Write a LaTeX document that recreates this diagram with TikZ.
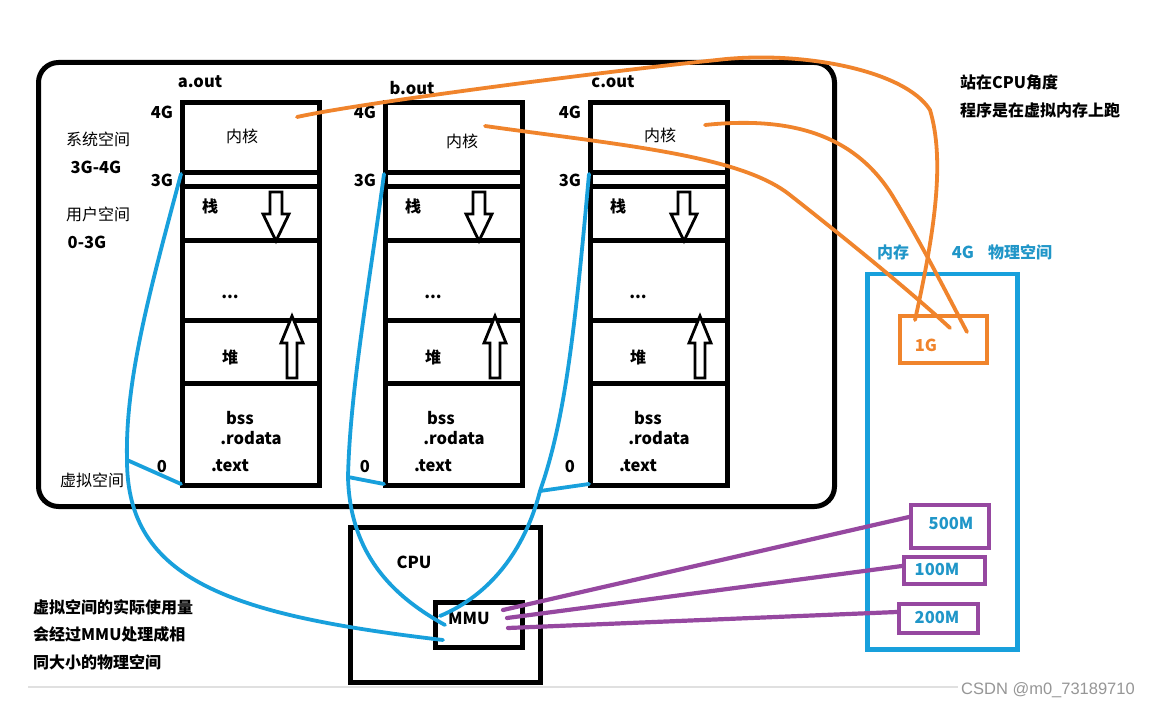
\documentclass[tikz,border=0pt]{standalone}
\usepackage{fontspec}
\setmainfont{Noto Sans CJK SC}
\newfontfamily\wmfont{Liberation Sans}
\definecolor{lblue}{RGB}{24,160,220}
\definecolor{lorange}{RGB}{240,132,44}
\definecolor{lpurple}{RGB}{150,72,160}
\definecolor{tealtxt}{RGB}{32,150,200}
\definecolor{wmgray}{RGB}{150,150,150}
\tikzset{
  frame/.style={draw=black, line width=5pt, inner sep=0pt},
  hline/.style={draw=black, line width=5pt},
  blueline/.style={draw=lblue, line width=3.8pt, line cap=round},
  orangeline/.style={draw=lorange, line width=3.8pt, line cap=round},
  purpleline/.style={draw=lpurple, line width=4.2pt, line cap=round},
  lbl/.style={font=\fontsize{16.5}{19}\selectfont\bfseries, inner sep=0pt},
  cn/.style={font=\fontsize{16}{19}\selectfont, inner sep=0pt},
  cnb/.style={font=\fontsize{16}{19}\selectfont\bfseries, inner sep=0pt},
  hollow/.style={draw=black, line width=2.8pt, fill=white, line join=miter},
}
\newcommand\memcol[8]{%
  % #1 name, #2 left x, #3 title, #4 title x, #5 title y, #6 kernel x, #7 kernel y, #8 bss x
  \begin{scope}[shift={(#2,0)}]
    \node[frame, minimum width=137pt, minimum height=383pt, anchor=north west] (#1box) at (0,100) {};
    \draw[hline] (0,173) -- (137,173);
    \draw[hline] (0,187) -- (137,187);
    \draw[hline] (0,241) -- (137,241);
    \draw[hline] (0,320) -- (137,320);
    \draw[hline] (0,383) -- (137,383);
    \node[lbl] (#1title) at (#4,#5) {#3};
    \node[lbl] (#1g4) at (-18,112) {4G};
    \node[lbl] (#1g3) at (-18,180) {3G};
    \node[lbl] (#1zero) at (-18,467) {0};
    \node[cn] (#1kern) at (#6,#7) {内核};
    \node[cnb] (#1stack) at (30,206) {栈};
    \node[lbl] (#1dots) at (50,297) {...};
    \node[cnb] (#1heap) at (50,357) {堆};
    \node[lbl] (#1bss) at (#8,418) {bss};
    \node[lbl] (#1ro) at (71,438) {.rodata};
    \node[lbl] (#1text) at (50,466) {.text};
    \draw[hollow] (90,192) -- (102,192) -- (102,214) -- (109,214) -- (96,241) -- (83,214) -- (90,214) -- cycle;
    \draw[hollow] (107,378) -- (117,378) -- (117,343) -- (123,343) -- (112,316) -- (101,343) -- (107,343) -- cycle;
    \coordinate (#1top) at (1,174);
    \coordinate (#1bot) at (1,484);
  \end{scope}
}
\begin{document}
\begin{tikzpicture}[x=1pt,y=-1pt]
\useasboundingbox[fill=white] (0,0) rectangle (1150,708);

% outer virtual space frame
\node[frame, rounded corners=20pt, minimum width=796pt, minimum height=444pt, anchor=north west] (outer) at (36,60) {};

\memcol{a}{180}{a.out}{20}{82}{62}{136}{60}
\memcol{b}{383}{b.out}{29}{88}{79}{141}{58}
\memcol{c}{588}{c.out}{25}{82}{72}{135}{60}

% left labels
\node[cn] (sys) at (98,139) {系统空间};
\node[lbl] (sysr) at (96,167) {3G-4G};
\node[cn] (usr) at (98,214) {用户空间};
\node[lbl] (usrr) at (87,242) {0-3G};
\node[cn] (virt) at (92,480) {虚拟空间};

% CPU and MMU
\node[frame, minimum width=190pt, minimum height=155pt, anchor=north west] (cpu) at (348,525) {};
\node[lbl] (cpulbl) at (414,562) {CPU};
\node[frame, minimum width=87pt, minimum height=45pt, anchor=north west] (mmu) at (433,600) {};
\node[lbl] (mmulbl) at (469,618) {MMU};

% physical memory
\node[draw=lblue, line width=4.5pt, inner sep=0pt, minimum width=150pt, minimum height=375pt, anchor=north west] (mem) at (865,272) {};
\node[cnb, text=tealtxt] (memlbl) at (893,252) {内存};
\node[lbl, text=tealtxt] (memsize) at (963,252) {4G};
\node[cnb, text=tealtxt] (memphys) at (1020,252) {物理空间};
\node[draw=lorange, line width=4pt, inner sep=0pt, minimum width=87pt, minimum height=47pt, anchor=north west] (g1) at (898,314) {};
\node[lbl, text=lorange] (g1lbl) at (926,345) {1G};
\node[draw=lpurple, line width=4pt, inner sep=0pt, minimum width=78pt, minimum height=43pt, anchor=north west] (m500) at (909,503) {};
\node[lbl, text=tealtxt] (m500lbl) at (951,523) {500M};
\node[draw=lpurple, line width=4pt, inner sep=0pt, minimum width=81pt, minimum height=27pt, anchor=north west] (m100) at (902,555) {};
\node[lbl, text=tealtxt] (m100lbl) at (937,569) {100M};
\node[draw=lpurple, line width=4pt, inner sep=0pt, minimum width=79pt, minimum height=29pt, anchor=north west] (m200) at (897,602) {};
\node[lbl, text=tealtxt] (m200lbl) at (937,617) {200M};

% right and bottom notes
\node[cnb, anchor=west] (note1) at (960,82) {站在CPU角度};
\node[cnb, anchor=west] (note2) at (960,110) {程序是在虚拟内存上跑};
\node[cnb, anchor=west] (note3) at (33,607) {虚拟空间的实际使用量};
\node[cnb, anchor=west] (note4) at (33,634) {会经过MMU处理成相};
\node[cnb, anchor=west] (note5) at (33,662) {同大小的物理空间};

% faint bottom rule and watermark
\draw[black!12, line width=1.2pt] (28,687) -- (958,687);
\node[font=\wmfont\fontsize{16.5}{19}\selectfont, text=wmgray, inner sep=0pt] (wm) at (1048,690) {CSDN @m0\_73189710};

% connector end points
\coordinate (aker) at (297,117);
\coordinate (bker) at (485,126);
\coordinate (cker) at (705,125);
\coordinate (g1a) at (915,320);
\coordinate (g1b) at (950,328);
\coordinate (g1c) at (967,332);
\coordinate (mmua) at (443,640);
\coordinate (mmub) at (445,625);
\coordinate (mmuc) at (440,616);
\coordinate (aj) at (127,460);
\coordinate (bj) at (348,477);
\coordinate (cj) at (540,491);
\coordinate (p1) at (503,610);
\coordinate (p2) at (507,618);
\coordinate (p3) at (508,628);
\coordinate (q1) at (909,517);
\coordinate (q2) at (902,566);
\coordinate (q3) at (897,612);

% blue virtual-to-MMU curves
\draw[blueline] (atop) .. controls (150,290) and (125,380) .. (aj)
   .. controls (127,580) and (230,615) .. (mmua);
\draw[blueline] (aj) -- (abot);
\draw[blueline] (btop) .. controls (370,280) and (350,390) .. (bj)
   .. controls (350,560) and (400,600) .. (mmub);
\draw[blueline] (bj) -- (bbot);
\draw[blueline] (ctop) .. controls (575,330) and (565,420) .. (cj)
   .. controls (525,550) and (490,595) .. (mmuc);
\draw[blueline] (cbot) -- (cj);

% orange kernel curves
\draw[orangeline] (aker) .. controls (360,103) and (600,72) .. (717,60)
   .. controls (800,50) and (905,70) .. (930,110)
   .. controls (945,160) and (935,230) .. (g1a);
\draw[orangeline] (bker) .. controls (620,145) and (740,155) .. (790,195)
   .. controls (860,250) and (920,300) .. (g1b);
\draw[orangeline] (cker) .. controls (800,115) and (860,140) .. (895,200)
   .. controls (925,250) and (950,300) .. (g1c);

% purple MMU to physical blocks
\draw[purpleline] (p1) -- (q1);
\draw[purpleline] (p2) -- (q2);
\draw[purpleline] (p3) -- (q3);
\end{tikzpicture}
\end{document}
